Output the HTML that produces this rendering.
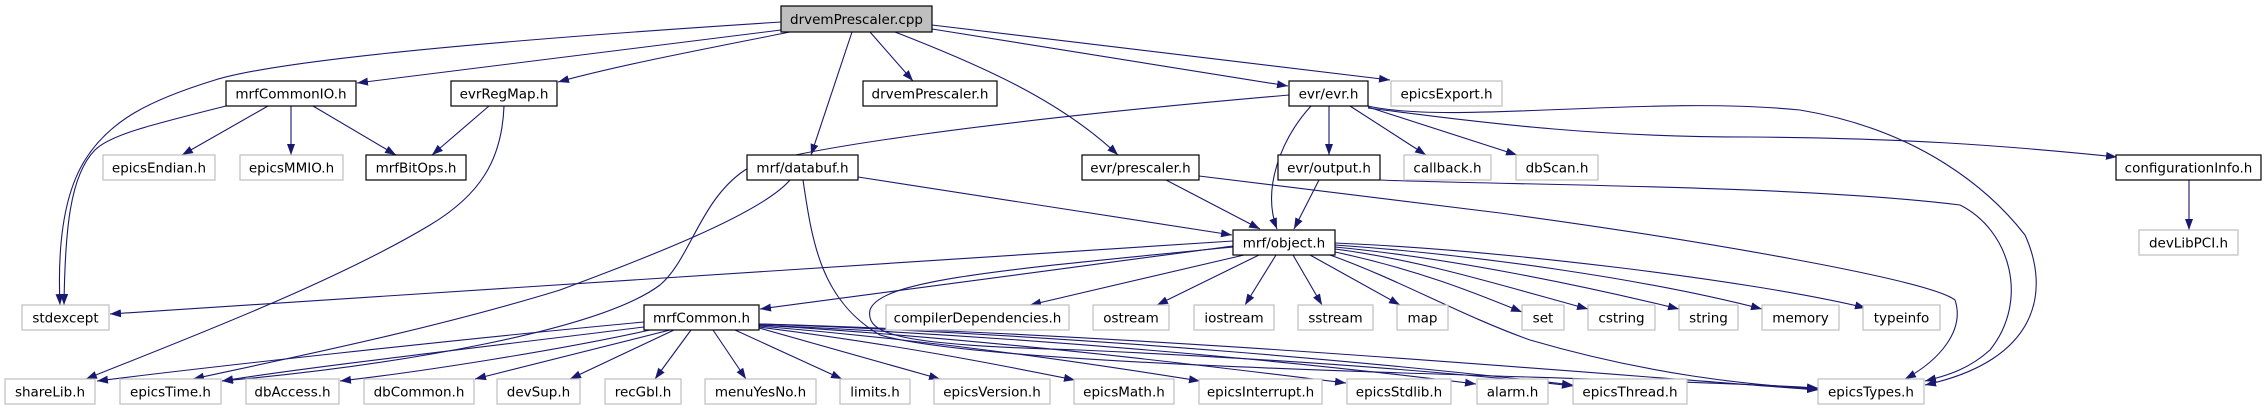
<!DOCTYPE html>
<html><head><meta charset="utf-8"><style>
html,body{margin:0;padding:0;background:#fff;}
svg{display:block;}
text{font-family:"DejaVu Sans","Liberation Sans",sans-serif;font-size:13.5px;fill:#000;}
.b{fill:#fff;stroke:#000;stroke-width:1.2;}
.g{fill:#fff;stroke:#bfbfbf;stroke-width:1.2;}
.e{fill:none;stroke:#191970;stroke-width:1.1;marker-end:url(#a);}
</style></head><body>
<svg width="2266" height="411" viewBox="0 0 2266 411" xmlns="http://www.w3.org/2000/svg">
<defs><marker id="a" markerUnits="userSpaceOnUse" markerWidth="12" markerHeight="9" refX="11" refY="4" orient="auto"><path d="M0,0 L11,4 L0,8 z" fill="#191970"/></marker></defs>
<g>
<path class="e" d="M781,22 C500,40 280,60 215,80 C150,100 110,120 85,160 C60,200 58,260 60,305"/>
<path class="e" d="M226,106 C150,125 110,135 95,150 C70,175 65,230 64,305"/>
<path class="e" d="M781,30 L357,83"/>
<path class="e" d="M790,32 C700,50 620,65 558,82"/>
<path class="e" d="M852,32 L811,155"/>
<path class="e" d="M870,32 L913,81"/>
<path class="e" d="M895,32 C980,65 1060,100 1118,155"/>
<path class="e" d="M932,29 L1288,86"/>
<path class="e" d="M932,25 L1390,80"/>
<path class="e" d="M268,106 L182,155"/>
<path class="e" d="M291,106 L291,155"/>
<path class="e" d="M313,106 L396,155"/>
<path class="e" d="M489,106 L432,155"/>
<path class="e" d="M504,106 C502,160 480,195 430,225 C330,285 170,345 86,379"/>
<path class="e" d="M790,180 C760,215 640,260 560,290 C430,330 280,360 193,379"/>
<path class="e" d="M1289,95 C1000,120 780,150 745,170 C700,200 690,260 660,285 C600,330 400,365 222,381"/>
<path class="e" d="M858,177 L1232,235"/>
<path class="e" d="M803,180 C812,240 820,300 880,335 C1000,370 1600,375 1818,388"/>
<path class="e" d="M1166,180 L1260,229"/>
<path class="e" d="M1199,176 L1500,213 C1700,240 1930,280 1955,300 C1965,330 1940,360 1905,379"/>
<path class="e" d="M1311,106 C1280,140 1262,190 1277,229"/>
<path class="e" d="M1329,106 L1329,155"/>
<path class="e" d="M1319,180 L1294,229"/>
<path class="e" d="M1380,180 C1500,185 1800,185 1960,205 C2010,230 2030,300 1990,350 C1970,368 1950,375 1925,381"/>
<path class="e" d="M1368,106 C1450,125 1650,95 1800,110 C1920,130 1990,190 2025,235 C2050,290 2040,360 1925,385"/>
<path class="e" d="M1350,106 L1426,155"/>
<path class="e" d="M1368,107 L1517,155"/>
<path class="e" d="M1368,108 C1500,125 1600,137 1750,137 C1900,138 2000,145 2117,157"/>
<path class="e" d="M2189,180 L2189,230"/>
<path class="e" d="M1233,241 L110,314"/>
<path class="e" d="M1233,246 L760,309"/>
<path class="e" d="M1244,255 L1030,305"/>
<path class="e" d="M1259,255 L1157,305"/>
<path class="e" d="M1276,255 L1245,305"/>
<path class="e" d="M1293,255 L1322,305"/>
<path class="e" d="M1310,255 L1400,305"/>
<path class="e" d="M1335,252 C1420,270 1480,295 1522,312"/>
<path class="e" d="M1335,249 C1420,260 1500,285 1588,309"/>
<path class="e" d="M1335,247 C1450,258 1580,285 1679,309"/>
<path class="e" d="M1335,245 C1480,255 1650,280 1762,309"/>
<path class="e" d="M1335,243 C1500,250 1750,280 1866,308"/>
<path class="e" d="M1330,255 C1400,280 1460,315 1530,340 C1650,375 1750,385 1818,389"/>
<path class="e" d="M1233,247 C1000,270 880,280 870,310 C865,335 900,345 1080,350 C1300,360 1450,372 1573,386"/>
<path class="e" d="M644,322 C450,340 200,368 97,381"/>
<path class="e" d="M644,327 C500,345 300,368 222,381"/>
<path class="e" d="M650,330 C560,350 420,372 340,381"/>
<path class="e" d="M670,330 L475,379"/>
<path class="e" d="M674,330 L570,379"/>
<path class="e" d="M691,330 L655,379"/>
<path class="e" d="M713,330 L746,379"/>
<path class="e" d="M735,330 L842,379"/>
<path class="e" d="M759,328 L940,379"/>
<path class="e" d="M759,327 C900,345 1000,365 1075,380"/>
<path class="e" d="M759,326 C950,342 1100,365 1200,381"/>
<path class="e" d="M759,325 C1000,340 1200,365 1346,383"/>
<path class="e" d="M759,325 C1050,338 1300,362 1476,384"/>
<path class="e" d="M759,324 C1100,336 1400,365 1573,385"/>
<path class="e" d="M759,324 C1150,335 1550,370 1818,390"/>
</g>
<g>
<rect x="781" y="6" width="151" height="26" fill="#bfbfbf" stroke="#000" stroke-width="1.2"/><text x="856.5" y="24" text-anchor="middle">drvemPrescaler.cpp</text>
<rect class="b" x="226" y="81" width="130" height="25"/><text x="291" y="98.5" text-anchor="middle">mrfCommonIO.h</text>
<rect class="b" x="451" y="81" width="106" height="25"/><text x="504" y="98.5" text-anchor="middle">evrRegMap.h</text>
<rect class="b" x="863" y="81" width="134" height="25"/><text x="930" y="98.5" text-anchor="middle">drvemPrescaler.h</text>
<rect class="b" x="1289" y="81" width="79" height="25"/><text x="1328.5" y="98.5" text-anchor="middle">evr/evr.h</text>
<rect class="g" x="1391" y="81" width="111" height="25"/><text x="1446.5" y="98.5" text-anchor="middle">epicsExport.h</text>
<rect class="g" x="103" y="155" width="112" height="25"/><text x="159" y="172.5" text-anchor="middle">epicsEndian.h</text>
<rect class="g" x="240" y="155" width="103" height="25"/><text x="291.5" y="172.5" text-anchor="middle">epicsMMIO.h</text>
<rect class="b" x="366" y="155" width="100" height="25"/><text x="416" y="172.5" text-anchor="middle">mrfBitOps.h</text>
<rect class="b" x="747" y="155" width="111" height="25"/><text x="802.5" y="172.5" text-anchor="middle">mrf/databuf.h</text>
<rect class="b" x="1082" y="155" width="117" height="25"/><text x="1140.5" y="172.5" text-anchor="middle">evr/prescaler.h</text>
<rect class="b" x="1278" y="155" width="102" height="25"/><text x="1329" y="172.5" text-anchor="middle">evr/output.h</text>
<rect class="g" x="1404" y="155" width="87" height="25"/><text x="1447.5" y="172.5" text-anchor="middle">callback.h</text>
<rect class="g" x="1516" y="155" width="82" height="25"/><text x="1557" y="172.5" text-anchor="middle">dbScan.h</text>
<rect class="b" x="2116" y="155" width="145" height="25"/><text x="2188.5" y="172.5" text-anchor="middle">configurationInfo.h</text>
<rect class="b" x="1233" y="230" width="102" height="25"/><text x="1284" y="247.5" text-anchor="middle">mrf/object.h</text>
<rect class="g" x="2139" y="230" width="99" height="25"/><text x="2188.5" y="247.5" text-anchor="middle">devLibPCI.h</text>
<rect class="g" x="22" y="305" width="87" height="25"/><text x="65.5" y="322.5" text-anchor="middle">stdexcept</text>
<rect class="b" x="644" y="305" width="115" height="25"/><text x="701.5" y="322.5" text-anchor="middle">mrfCommon.h</text>
<rect class="g" x="886" y="305" width="183" height="25"/><text x="977.5" y="322.5" text-anchor="middle">compilerDependencies.h</text>
<rect class="g" x="1093" y="305" width="76" height="25"/><text x="1131" y="322.5" text-anchor="middle">ostream</text>
<rect class="g" x="1194" y="305" width="80" height="25"/><text x="1234" y="322.5" text-anchor="middle">iostream</text>
<rect class="g" x="1298" y="305" width="75" height="25"/><text x="1335.5" y="322.5" text-anchor="middle">sstream</text>
<rect class="g" x="1397" y="305" width="51" height="25"/><text x="1422.5" y="322.5" text-anchor="middle">map</text>
<rect class="g" x="1522" y="305" width="42" height="25"/><text x="1543" y="322.5" text-anchor="middle">set</text>
<rect class="g" x="1588" y="305" width="67" height="25"/><text x="1621.5" y="322.5" text-anchor="middle">cstring</text>
<rect class="g" x="1679" y="305" width="59" height="25"/><text x="1708.5" y="322.5" text-anchor="middle">string</text>
<rect class="g" x="1762" y="305" width="77" height="25"/><text x="1800.5" y="322.5" text-anchor="middle">memory</text>
<rect class="g" x="1863" y="305" width="77" height="25"/><text x="1901.5" y="322.5" text-anchor="middle">typeinfo</text>
<rect class="g" x="5" y="379" width="90" height="25"/><text x="50" y="396.5" text-anchor="middle">shareLib.h</text>
<rect class="g" x="120" y="379" width="101" height="25"/><text x="170.5" y="396.5" text-anchor="middle">epicsTime.h</text>
<rect class="g" x="246" y="379" width="93" height="25"/><text x="292.5" y="396.5" text-anchor="middle">dbAccess.h</text>
<rect class="g" x="364" y="379" width="110" height="25"/><text x="419" y="396.5" text-anchor="middle">dbCommon.h</text>
<rect class="g" x="497" y="379" width="83" height="25"/><text x="538.5" y="396.5" text-anchor="middle">devSup.h</text>
<rect class="g" x="605" y="379" width="76" height="25"/><text x="643" y="396.5" text-anchor="middle">recGbl.h</text>
<rect class="g" x="705" y="379" width="111" height="25"/><text x="760.5" y="396.5" text-anchor="middle">menuYesNo.h</text>
<rect class="g" x="840" y="379" width="70" height="25"/><text x="875" y="396.5" text-anchor="middle">limits.h</text>
<rect class="g" x="934" y="379" width="116" height="25"/><text x="992" y="396.5" text-anchor="middle">epicsVersion.h</text>
<rect class="g" x="1074" y="379" width="100" height="25"/><text x="1124" y="396.5" text-anchor="middle">epicsMath.h</text>
<rect class="g" x="1199" y="379" width="123" height="25"/><text x="1260.5" y="396.5" text-anchor="middle">epicsInterrupt.h</text>
<rect class="g" x="1347" y="379" width="104" height="25"/><text x="1399" y="396.5" text-anchor="middle">epicsStdlib.h</text>
<rect class="g" x="1477" y="379" width="71" height="25"/><text x="1512.5" y="396.5" text-anchor="middle">alarm.h</text>
<rect class="g" x="1573" y="379" width="114" height="25"/><text x="1630" y="396.5" text-anchor="middle">epicsThread.h</text>
<rect class="g" x="1818" y="379" width="106" height="25"/><text x="1871" y="396.5" text-anchor="middle">epicsTypes.h</text>
</g>
</svg>
</body></html>
